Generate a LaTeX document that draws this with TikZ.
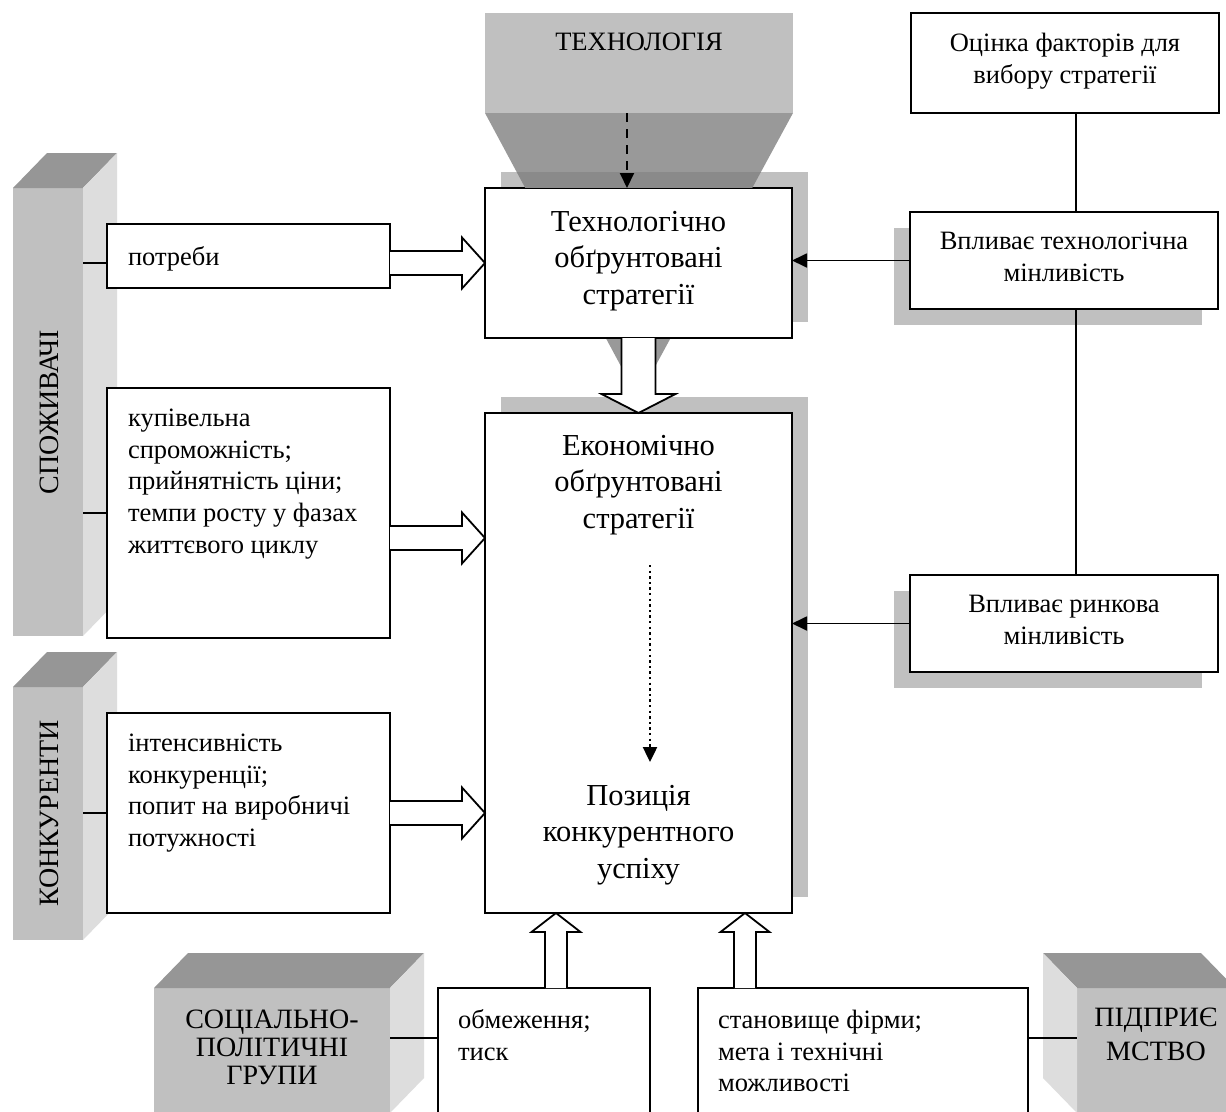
\documentclass[tikz,border=0pt]{standalone}
\usepackage{fontspec}
\setmainfont{Liberation Serif}
\usetikzlibrary{calc,arrows.meta,shadows}

\definecolor{pillarfront}{HTML}{C0C0C0}
\definecolor{pillartop}{HTML}{969696}
\definecolor{pillarside}{HTML}{DDDDDD}
\definecolor{shadowgray}{HTML}{C0C0C0}
\definecolor{funnelgray}{HTML}{999999}
\definecolor{funneldark}{HTML}{8A8A8A}

\newcommand\fsmall{\fontsize{26.5}{31.7}\selectfont}
\newcommand\fbig{\fontsize{30.5}{36.7}\selectfont}
\newcommand\flabel{\fontsize{28}{28}\selectfont}

% hollow block arrow pointing right: start, tip, shaft half width, head half width, head length
\newcommand\harrow[5]{%
  \draw[blockarrow] ($(#1)+(0,-#3)$) -- ($(#2)+(-#5,-#3)$) -- ($(#2)+(-#5,-#4)$) -- (#2)
    -- ($(#2)+(-#5,#4)$) -- ($(#2)+(-#5,#3)$) -- ($(#1)+(0,#3)$);}
% hollow block arrow, vertical: start, tip, shaft half width, head half width, signed head length
\newcommand\varrow[5]{%
  \draw[blockarrow] ($(#1)+(-#3,0)$) -- ($(#2)+(-#3,#5)$) -- ($(#2)+(-#4,#5)$) -- (#2)
    -- ($(#2)+(#4,#5)$) -- ($(#2)+(#3,#5)$) -- ($(#1)+(#3,0)$);}
% 3D pillar faces, depth towards upper right
\newcommand\pillarright[1]{%
  \fill[pillartop] (#1.north west) -- ($(#1.north west)+(34,-35)$) -- ($(#1.north east)+(34,-35)$) -- (#1.north east) -- cycle;
  \fill[pillarside] (#1.north east) -- ($(#1.north east)+(34,-35)$) -- ($(#1.south east)+(34,-35)$) -- (#1.south east) -- cycle;}
% 3D pillar faces, depth towards upper left
\newcommand\pillarleft[1]{%
  \fill[pillartop] (#1.north east) -- ($(#1.north east)+(-34,-35)$) -- ($(#1.north west)+(-34,-35)$) -- (#1.north west) -- cycle;
  \fill[pillarside] (#1.north west) -- ($(#1.north west)+(-34,-35)$) -- ($(#1.south west)+(-34,-35)$) -- (#1.south west) -- cycle;}

\begin{document}
\begin{tikzpicture}[x=1pt,y=-1pt,
  every node/.style={inner sep=0pt,outer sep=0pt},
  box/.style={draw,line width=1.8pt,fill=white,rectangle},
  shadowUR/.style={general shadow={fill=shadowgray,shadow xshift=16pt,shadow yshift=16pt}},
  shadowDL/.style={general shadow={fill=shadowgray,shadow xshift=-16pt,shadow yshift=-16pt}},
  pillar/.style={fill=pillarfront,rectangle},
  blockarrow/.style={draw,fill=white,line width=1.8pt,line join=miter},
  conn/.style={line width=1.8pt},
  tip/.style={-{Triangle[length=15pt,width=14pt]}},
  lefttext/.style={font=\fsmall,align=left,anchor=north west,execute at begin node={\rule{0pt}{22pt}}},
  midtext/.style={font=\fsmall,align=center,anchor=north,execute at begin node={\rule{0pt}{22pt}}},
  bigtext/.style={font=\fbig,align=center,anchor=north,execute at begin node={\rule{0pt}{25pt}}},
  captext/.style={font=\flabel,align=center,anchor=north,execute at begin node={\rule{0pt}{23pt}}},
]
\useasboundingbox (0,0) rectangle (1226,1111);
\clip (0,0) rectangle (1226,1111);
\fill[white] (0,0) rectangle (1226,1111);

% funnel under the technology block
\fill[funnelgray] (485,113) -- (793,113) -- (638,398) -- cycle;
\node[fill=shadowgray,minimum width=308pt,minimum height=100pt] (tehn) at (639,63) {};
\node[font=\fsmall,anchor=north,execute at begin node={\rule{0pt}{22pt}}] (tTehn) at (639,28) {ТЕХНОЛОГІЯ};

% central blocks
\node[box,shadowUR,minimum width=307pt,minimum height=150pt] (tech) at (638.5,263) {};
\begin{scope}
  \clip (501,172) rectangle (808,187);
  \fill[funneldark] (485,113) -- (793,113) -- (638,398) -- cycle;
\end{scope}
\node[box,shadowUR,minimum width=307pt,minimum height=500pt] (econ) at (638.5,663) {};
\node[bigtext] (tTech) at (638.5,211) {Технологічно\\обґрунтовані\\стратегії};
\node[bigtext] (tEcon) at (638.5,435) {Економічно\\обґрунтовані\\стратегії};
\node[bigtext] (tPoz) at (638.5,785) {Позиція\\конкурентного\\успіху};

% left pillars and their boxes
\node[pillar,minimum width=70pt,minimum height=448pt] (spoz) at (48,412) {};
\pillarright{spoz}
\node[font=\flabel,rotate=90,anchor=base] (tSpoz) at (58,412) {СПОЖИВАЧІ};
\node[pillar,minimum width=70pt,minimum height=253pt] (konk) at (48,813.5) {};
\pillarright{konk}
\node[font=\flabel,rotate=90,anchor=base] (tKonk) at (58,813.5) {КОНКУРЕНТИ};

\node[box,minimum width=283pt,minimum height=64pt] (potr) at (248.5,256) {};
\node[box,minimum width=283pt,minimum height=250pt] (kup) at (248.5,513) {};
\node[box,minimum width=283pt,minimum height=200pt] (konkb) at (248.5,813) {};
\node[lefttext] (tPotr) at (128,243) {потреби};
\node[lefttext] (tKup) at (128,409) {купівельна\\спроможність;\\прийнятність ціни;\\темпи росту у фазах\\життєвого циклу};
\node[lefttext] (tKonkb) at (128,734) {інтенсивність\\конкуренції;\\попит на виробничі\\потужності};

% right column
\node[box,minimum width=308pt,minimum height=100pt] (ocin) at (1065,63) {};
\node[box,shadowDL,minimum width=308pt,minimum height=97pt] (tchg) at (1064,260.5) {};
\node[box,shadowDL,minimum width=308pt,minimum height=97pt] (rynk) at (1064,623.5) {};
\node[midtext] (tOcin) at (1065,33) {Оцінка факторів для\\вибору стратегії};
\node[midtext] (tTchg) at (1064,232) {Впливає технологічна\\мінливість};
\node[midtext] (tRynk) at (1064,595) {Впливає ринкова\\мінливість};

% bottom row
\node[pillar,minimum width=236pt,minimum height=125pt] (soc) at (272,1050.5) {};
\pillarright{soc}
\node[captext] (tSoc) at (272,1010) {СОЦІАЛЬНО-\\ПОЛІТИЧНІ\\ГРУПИ};
\node[pillar,minimum width=158pt,minimum height=125pt] (pidp) at (1156,1050.5) {};
\pillarleft{pidp}
\node[captext,font=\fontsize{28}{34}\selectfont] (tPidp) at (1156,1008) {ПІДПРИЄ\\МСТВО};

\node[box,minimum width=212pt,minimum height=142pt] (obm) at (544,1059) {};
\node[box,minimum width=330pt,minimum height=142pt] (stan) at (863,1059) {};
\node[lefttext] (tObm) at (458,1010) {обмеження;\\тиск};
\node[lefttext] (tStan) at (718,1010) {становище фірми;\\мета і технічні\\можливості};

% plain connectors
\coordinate (xv) at (1076,0);
\coordinate (lvl) at (0,1038);
\draw[conn] (potr.west |- tech.west) -- (spoz.east |- tech.west);
\draw[conn] (kup.west) -- (kup.west -| spoz.east);
\draw[conn] (konkb.west) -- (konkb.west -| konk.east);
\draw[conn] (obm.west |- lvl) -- (soc.east |- lvl);
\draw[conn] (stan.east |- lvl) -- (pidp.west |- lvl);
\draw[conn] (ocin.south -| xv) -- (tchg.north -| xv);
\draw[conn] (tchg.south -| xv) -- (rynk.north -| xv);

% arrows into the central blocks
\draw[conn,tip] (tchg.west) -- (tchg.west -| tech.east);
\draw[conn,tip] (rynk.west) -- (rynk.west -| econ.east);
\coordinate (xd) at (627,0);
\draw[line width=2pt,dash pattern=on 9pt off 7pt,tip] (tehn.south -| xd) -- (tech.north -| xd);
\coordinate (dtop) at (650,565);
\coordinate (dtip) at (650,762);
\draw[line width=2.4pt,dash pattern=on 2.4pt off 3.2pt,tip] (dtop) -- (dtip);

% hollow block arrows
\harrow{potr.east |- tech.west}{tech.west}{12}{25.5}{23}
\coordinate (ya) at (0,538);
\harrow{kup.east |- ya}{econ.west |- ya}{12}{25.5}{23}
\harrow{konkb.east}{econ.west |- konkb.east}{12}{25.5}{23}
\varrow{tech.south}{econ.north}{17}{37}{-19}
\coordinate (xa) at (556,0);
\coordinate (xb) at (745,0);
\varrow{obm.north -| xa}{econ.south -| xa}{11}{24.5}{19}
\varrow{stan.north -| xb}{econ.south -| xb}{11}{24.5}{19}
\end{tikzpicture}
\end{document}
